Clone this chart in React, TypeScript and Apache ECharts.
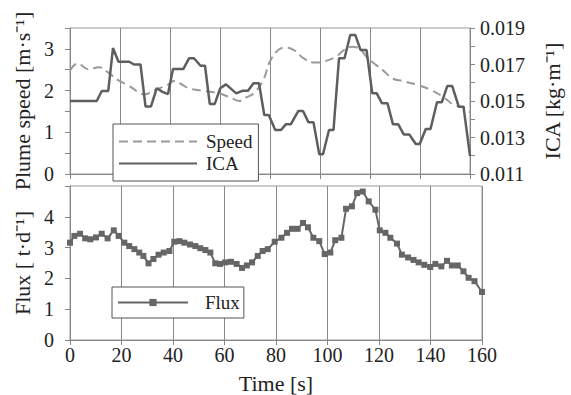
import React, { useEffect, useRef } from "react";
import * as echarts from "echarts";

// Top panel: plume speed (left axis) and ICA (right axis)
const speedTime = [0, 3, 7.5, 11.5, 15.3, 19.2, 23.2, 27.2, 29.8, 33.7, 38.9, 41.5, 44.1, 47.6, 52.8, 59.8, 65, 67.6, 70.2, 73.4, 77.3, 79.9, 83.2, 85.8, 89.6, 93.5, 98, 101.2, 106.4, 109.5, 112.7, 115.9, 118.6, 122.5, 125.1, 129, 132.9, 139.4, 144.5, 149.7, 153.6, 157.5, 160];
const speedValues = [2.48, 2.65, 2.51, 2.56, 2.43, 2.25, 2.13, 1.97, 1.91, 2.01, 2.13, 2.23, 2.17, 2.05, 2.0, 1.93, 1.81, 1.75, 1.83, 1.93, 2.25, 2.69, 2.97, 3.03, 2.97, 2.77, 2.67, 2.69, 2.81, 2.97, 3.05, 3.0, 2.81, 2.61, 2.49, 2.29, 2.23, 2.13, 2.01, 1.83, 1.65, 1.59, 1.48];

const icaTime = [0, 10.7, 12.7, 15.3, 17.2, 19.4, 23.7, 25.6, 28.2, 30.2, 32.4, 34.7, 37, 39.2, 41.2, 45.3, 47.6, 49.6, 52.2, 54, 55.9, 57.9, 60.1, 62.4, 66.5, 68.9, 71.2, 73.4, 75.6, 77.7, 79.5, 82.1, 84.4, 86.3, 88.3, 91.3, 93.2, 95.4, 97.4, 99.7, 101.2, 103.6, 105.4, 107.6, 109.8, 112.1, 114.1, 116.2, 118.6, 120.9, 122.7, 124.8, 127, 129.2, 131.3, 133.5, 135.7, 138.3, 139.9, 142.3, 144.2, 146.8, 148.7, 150.9, 152.9, 155.5, 157.4, 160];
const icaValues = [0.015, 0.015, 0.01555, 0.01555, 0.0179, 0.01715, 0.01715, 0.017, 0.017, 0.0147, 0.0147, 0.0157, 0.0155, 0.01538, 0.01675, 0.01675, 0.01734, 0.01734, 0.01693, 0.01693, 0.01484, 0.01484, 0.0157, 0.01591, 0.01542, 0.01556, 0.01556, 0.01597, 0.01597, 0.01423, 0.01423, 0.01341, 0.01341, 0.01372, 0.01372, 0.01445, 0.01445, 0.01383, 0.01383, 0.01208, 0.01208, 0.01341, 0.01341, 0.01734, 0.01734, 0.01862, 0.01862, 0.0178, 0.0178, 0.01542, 0.01542, 0.01487, 0.01487, 0.01372, 0.01372, 0.01317, 0.01317, 0.01264, 0.01264, 0.01347, 0.01347, 0.01493, 0.01493, 0.01582, 0.01582, 0.01469, 0.01469, 0.01199];

// Bottom panel: flux
const fluxTime = [0, 1.7, 3.9, 5.9, 7.9, 10.1, 12.3, 14.6, 17, 18.9, 21.1, 23, 25, 26.9, 28.5, 30.5, 32.4, 34.4, 36.4, 38.6, 40.5, 42.5, 44.4, 46.6, 48.7, 50.6, 52.6, 54.5, 56.4, 58.3, 60.3, 62.5, 64.7, 66.8, 68.7, 70.7, 72.9, 74.8, 76.8, 79.5, 82.1, 84.3, 86.2, 88.4, 90.5, 92.4, 94.5, 96.8, 98.9, 101.1, 103, 105.4, 107.2, 109.5, 111.5, 113.7, 116, 118.6, 120.3, 122.5, 124.4, 127, 128.9, 131.3, 133.4, 135.4, 137.6, 139.9, 141.9, 144.2, 146.4, 148.3, 150.6, 152.8, 154.8, 157.1, 160];
const fluxValues = [3.16, 3.38, 3.45, 3.3, 3.27, 3.33, 3.45, 3.3, 3.56, 3.38, 3.16, 3.05, 2.95, 2.84, 2.73, 2.49, 2.63, 2.77, 2.84, 2.89, 3.19, 3.21, 3.16, 3.1, 3.05, 2.98, 2.92, 2.84, 2.49, 2.47, 2.52, 2.54, 2.47, 2.34, 2.42, 2.52, 2.73, 2.89, 2.95, 3.19, 3.32, 3.48, 3.61, 3.61, 3.8, 3.66, 3.32, 3.21, 2.79, 2.84, 3.24, 3.32, 4.26, 4.34, 4.77, 4.82, 4.5, 4.23, 3.56, 3.48, 3.32, 3.13, 2.77, 2.68, 2.6, 2.52, 2.44, 2.37, 2.47, 2.39, 2.57, 2.42, 2.42, 2.23, 2.02, 1.91, 1.56];

const FONT = "'Liberation Serif', 'Times New Roman', serif";
const TXT = "#222";
const AX = "#888";

export default function App() {
  const ref = useRef<HTMLDivElement>(null);
  useEffect(() => {
    if (!ref.current) return;
    const chart = echarts.init(ref.current, undefined, { renderer: "svg" });
    const pair = (ts: number[], vs: number[]) => ts.map((t, i) => [t, vs[i]]);
    const xCommon = {
      type: "value" as const,
      min: 0,
      max: 160,
      interval: 20,
      axisLine: { lineStyle: { color: AX, width: 1 } },
      axisTick: { show: true, length: 5, lineStyle: { color: AX } },
      splitLine: { show: true, lineStyle: { color: AX, width: 1 } },
    };
    chart.setOption({
      animation: false,
      backgroundColor: "#fff",
      grid: [
        { left: 70, top: 28, width: 412, height: 146, show: true, borderColor: "#999", borderWidth: 1, backgroundColor: "transparent" },
        { left: 70, top: 186, width: 412, height: 156, show: true, borderColor: "#999", borderWidth: 1, backgroundColor: "transparent" },
      ],
      xAxis: [
        { ...xCommon, gridIndex: 0, axisLabel: { show: false } },
        {
          ...xCommon,
          gridIndex: 1,
          axisLabel: { show: true, margin: 5, fontSize: 20, fontFamily: FONT, color: TXT },
          name: "Time [s]",
          nameLocation: "middle",
          nameGap: 32,
          nameTextStyle: { fontSize: 22, fontFamily: FONT, color: TXT },
        },
      ],
      yAxis: [
        {
          type: "value",
          gridIndex: 0,
          min: 0,
          max: 3.5,
          interval: 0.5,
          axisLine: { show: true, lineStyle: { color: AX } },
          axisTick: { show: true, length: 5, lineStyle: { color: AX } },
          splitLine: { show: false },
          axisLabel: {
            margin: 16,
            fontSize: 20,
            fontFamily: FONT,
            color: TXT,
            formatter: (v: number) => (Math.abs(v - Math.round(v)) < 1e-6 ? String(Math.round(v)) : ""),
          },
          name: "Plume speed [m·s⁻¹]",
          nameLocation: "middle",
          nameGap: 28,
          nameRotate: 90,
          nameTextStyle: { fontSize: 22, fontFamily: FONT, color: TXT },
        },
        {
          type: "value",
          gridIndex: 0,
          position: "right",
          min: 0.011,
          max: 0.019,
          interval: 0.001,
          axisLine: { show: true, lineStyle: { color: AX } },
          axisTick: { show: true, length: 5, lineStyle: { color: AX } },
          splitLine: { show: false },
          axisLabel: {
            margin: 10,
            fontSize: 20,
            fontFamily: FONT,
            color: TXT,
            formatter: (v: number) => {
              const k = Math.round((v - 0.011) / 0.001);
              return k % 2 === 0 ? v.toFixed(3) : "";
            },
          },
          name: "ICA [kg·m⁻¹]",
          nameLocation: "middle",
          nameGap: 71,
          nameRotate: 90,
          nameTextStyle: { fontSize: 22, fontFamily: FONT, color: TXT },
        },
        {
          type: "value",
          gridIndex: 1,
          min: 0,
          max: 5,
          interval: 1,
          axisLine: { show: true, lineStyle: { color: AX } },
          axisTick: { show: true, length: 5, lineStyle: { color: AX } },
          splitLine: { show: false },
          axisLabel: {
            margin: 16,
            fontSize: 20,
            fontFamily: FONT,
            color: TXT,
            formatter: (v: number) => (v >= 5 ? "" : String(v)),
          },
          name: "Flux [ t·d⁻¹]",
          nameLocation: "middle",
          nameGap: 28,
          nameRotate: 90,
          nameTextStyle: { fontSize: 22, fontFamily: FONT, color: TXT },
        },
      ],
      legend: [
        {
          data: ["Speed", "ICA"],
          orient: "vertical",
          left: 113,
          top: 124,
          padding: [8, 6, 8, 5],
          itemWidth: 78,
          itemHeight: 14,
          itemGap: 3,
          backgroundColor: "#fff",
          borderColor: "#555",
          borderWidth: 1,
          borderRadius: 0,
          lineStyle: { width: 2 },
          itemStyle: { opacity: 0 },
          textStyle: { fontSize: 19, fontFamily: FONT, color: TXT, padding: [0, 0, 0, 4] },
        },
        {
          data: ["Flux"],
          orient: "vertical",
          left: 112,
          top: 287,
          padding: [6, 4, 6, 5],
          itemWidth: 70,
          itemHeight: 9,
          backgroundColor: "#fff",
          borderColor: "#555",
          borderWidth: 1,
          borderRadius: 0,
          lineStyle: { width: 2 },
          textStyle: { fontSize: 19, fontFamily: FONT, color: TXT, padding: [0, 0, 0, 12] },
        },
      ],
      series: [
        {
          name: "Speed",
          type: "line",
          xAxisIndex: 0,
          yAxisIndex: 0,
          data: pair(speedTime, speedValues),
          symbol: "none",
          smooth: 0.4,
          lineStyle: { color: "#9a9a9a", width: 2, type: [9, 5] },
          itemStyle: { color: "#9a9a9a" },
        },
        {
          name: "ICA",
          type: "line",
          xAxisIndex: 0,
          yAxisIndex: 1,
          data: pair(icaTime, icaValues),
          symbol: "none",
          lineStyle: { color: "#5e5e5e", width: 2.5 },
          itemStyle: { color: "#5e5e5e" },
        },
        {
          name: "Flux",
          type: "line",
          xAxisIndex: 1,
          yAxisIndex: 2,
          data: pair(fluxTime, fluxValues),
          symbol: "rect",
          symbolSize: 6,
          lineStyle: { color: "#666", width: 2 },
          itemStyle: { color: "#666" },
        },
      ],
    });
    return () => chart.dispose();
  }, []);
  return (
    <div
      ref={ref}
      style={{ position: "absolute", left: 0, top: 0, width: 571, height: 395 }}
    />
  );
}
